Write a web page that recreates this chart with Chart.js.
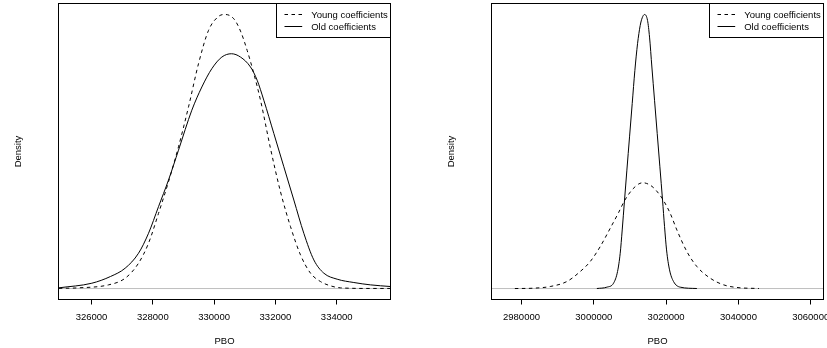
<!DOCTYPE html>
<html><head><meta charset="utf-8">
<script src="https://cdn.jsdelivr.net/npm/chart.js@4.4.0/dist/chart.umd.min.js"></script>
<style>
html,body{margin:0;padding:0;background:#fff;}
#wrap{position:relative;width:827px;height:348px;overflow:hidden;}
#c1{position:absolute;left:0;top:0;width:413px;height:348px;}
#c2{position:absolute;left:413px;top:0;width:414px;height:348px;}
</style></head><body>
<div id="wrap"><canvas id="c1" width="413" height="348"></canvas><canvas id="c2" width="414" height="348"></canvas></div>
<script>
// ---- labels ----
const youngLabel = 'Young coefficients';
const oldLabel = 'Old coefficients';
const xTitle = 'PBO';
const yTitle = 'Density';

// ---- left panel ----
const leftTicks = [326000, 328000, 330000, 332000, 334000];
const leftXRange = [324923, 335755];
const leftYoungPBO = [324934, 325576, 326555, 327098, 327533, 327860, 328186, 328512, 328838, 329165, 329491, 329817, 330143, 330350, 330644, 330861, 331079, 331296, 331514, 331840, 332166, 332493, 332819, 333145, 333471, 333797, 334124, 335102, 335755];
const leftYoungDensity = [0.002e-4, 0.008e-4, 0.042e-4, 0.118e-4, 0.290e-4, 0.519e-4, 0.861e-4, 1.223e-4, 1.624e-4, 2.081e-4, 2.576e-4, 2.957e-4, 3.117e-4, 3.140e-4, 3.090e-4, 2.950e-4, 2.728e-4, 2.462e-4, 2.157e-4, 1.604e-4, 1.109e-4, 0.709e-4, 0.385e-4, 0.176e-4, 0.080e-4, 0.031e-4, 0.008e-4, 0.001e-4, 0.001e-4];
const leftOldPBO = [324934, 326011, 326620, 327098, 327533, 327860, 328186, 328512, 328838, 329273, 329600, 329926, 330252, 330567, 330861, 331187, 331405, 331622, 331949, 332275, 332601, 332927, 333253, 333580, 334015, 334559, 335102, 335755];
const leftOldDensity = [0.008e-4, 0.061e-4, 0.138e-4, 0.233e-4, 0.404e-4, 0.633e-4, 0.938e-4, 1.243e-4, 1.585e-4, 2.043e-4, 2.309e-4, 2.519e-4, 2.652e-4, 2.690e-4, 2.652e-4, 2.538e-4, 2.386e-4, 2.157e-4, 1.776e-4, 1.395e-4, 1.014e-4, 0.633e-4, 0.328e-4, 0.176e-4, 0.107e-4, 0.069e-4, 0.042e-4, 0.023e-4];

// ---- right panel ----
const rightTicks = [2980000, 3000000, 3020000, 3040000, 3060000];
const rightXRange = [2971702, 3063533];
const rightYoungPBO = [2978165, 2983328, 2987938, 2992549, 2996237, 2999003, 3001770, 3004534, 3006839, 3008499, 3010528, 3012370, 3013575, 3015048, 3016431, 3018275, 3019198, 3021134, 3022978, 3025744, 3028511, 3032199, 3035888, 3039576, 3045663];
const rightYoungDensity = [0.0000e-4, 0.0013e-4, 0.0074e-4, 0.0256e-4, 0.0620e-4, 0.0984e-4, 0.1530e-4, 0.2197e-4, 0.2768e-4, 0.3205e-4, 0.3593e-4, 0.3811e-4, 0.3860e-4, 0.3811e-4, 0.3690e-4, 0.3411e-4, 0.3229e-4, 0.2743e-4, 0.2137e-4, 0.1348e-4, 0.0802e-4, 0.0377e-4, 0.0135e-4, 0.0038e-4, 0.0001e-4];
const rightOldPBO = [3000848, 3003614, 3005458, 3006565, 3007302, 3007856, 3008501, 3009147, 3009884, 3010622, 3011360, 3012097, 3012835, 3013388, 3014034, 3014864, 3015417, 3016062, 3016800, 3017538, 3018275, 3019012, 3019567, 3020120, 3020949, 3022056, 3023900, 3028511];
const rightOldDensity = [0.0001e-4, 0.0050e-4, 0.0195e-4, 0.0620e-4, 0.1287e-4, 0.2137e-4, 0.3229e-4, 0.4321e-4, 0.5534e-4, 0.6748e-4, 0.7961e-4, 0.8932e-4, 0.9599e-4, 0.9878e-4, 1.0000e-4, 0.9781e-4, 0.9174e-4, 0.8083e-4, 0.6869e-4, 0.5656e-4, 0.4442e-4, 0.3229e-4, 0.2257e-4, 0.1409e-4, 0.0681e-4, 0.0256e-4, 0.0050e-4, 0.0001e-4];

const FONT = '"Liberation Sans", Arial, Helvetica, sans-serif';
Chart.defaults.font.family = FONT;
Chart.defaults.font.size = 9.5;
Chart.defaults.color = '#000';

const pts = (xs, ys) => xs.map((x, i) => ({x: x, y: ys[i]}));

const framePlugin = {
  id: 'frameLegend',
  afterDatasetsDraw(chart) {
    const {ctx, chartArea: a} = chart;
    ctx.save();
    ctx.strokeStyle = '#000';
    ctx.lineWidth = 1;
    ctx.setLineDash([]);
    ctx.strokeRect(a.left, a.top, a.right - a.left, a.bottom - a.top);
    // legend box inside top-right
    const items = chart.data.datasets.filter(d => d.inLegend);
    ctx.font = '9.5px ' + FONT;
    const tw = Math.max(...items.map(d => ctx.measureText(d.label).width));
    const w = Math.round(34.7 + tw + 2.5);
    const h = 34;
    const left = a.right - w;
    const top = a.top;
    ctx.fillStyle = '#fff';
    ctx.fillRect(left, top, w, h);
    ctx.strokeRect(left, top, w, h);
    ctx.textBaseline = 'middle';
    ctx.textAlign = 'left';
    items.forEach((d, i) => {
      const y = top + 11 + i * 12;
      ctx.beginPath();
      ctx.setLineDash(d.borderDash || []);
      ctx.moveTo(left + 8, y);
      ctx.lineTo(left + 25.7, y);
      ctx.stroke();
      ctx.setLineDash([]);
      ctx.fillStyle = '#000';
      ctx.fillText(d.label, left + 34.7, y + 0.5);
    });
    ctx.restore();
  }
};

function makeChart(canvas, opt) {
  const allY = opt.young.y.concat(opt.old.y);
  const ymax = Math.max(...allY), ymin = Math.min(0, ...allY);
  const ext = (ymax - ymin) * 0.04;
  return new Chart(canvas, {
    type: 'line',
    data: {
      datasets: [
        {label: youngLabel, inLegend: true, data: pts(opt.young.x, opt.young.y), borderColor: '#000', borderWidth: 1, borderDash: [3.5, 3.5], pointRadius: 0, cubicInterpolationMode: 'monotone', fill: false},
        {label: oldLabel, inLegend: true, data: pts(opt.old.x, opt.old.y), borderColor: '#000', borderWidth: 1, pointRadius: 0, cubicInterpolationMode: 'monotone', fill: false},
        {label: 'zero', inLegend: false, data: [{x: opt.xr[0] - 1e6, y: 0}, {x: opt.xr[1] + 1e6, y: 0}], borderColor: '#bebebe', borderWidth: 1, pointRadius: 0, fill: false}
      ]
    },
    options: {
      responsive: false,
      animation: false,
      devicePixelRatio: 1,
      events: [],
      layout: {padding: {top: 3.5, right: opt.padRight, bottom: 0, left: 0}},
      plugins: {legend: {display: false}, tooltip: {enabled: false}},
      scales: {
        x: {
          type: 'linear', min: opt.xr[0], max: opt.xr[1],
          afterBuildTicks(s) { s.ticks = opt.ticks.map(v => ({value: v})); },
          afterFit(s) { s.height = 48.5; s.paddingLeft = 0; s.paddingRight = 0; },
          ticks: {autoSkip: false, maxRotation: 0, minRotation: 0, padding: 7.5, color: '#000', font: {size: 9.5}, callback: v => String(v)},
          grid: {display: true, drawOnChartArea: false, drawTicks: true, tickLength: 5, color: '#000', lineWidth: 1},
          border: {display: false},
          title: {display: true, text: xTitle, color: '#000', font: {size: 9.5}, padding: {top: 0, bottom: 1.3}}
        },
        y: {
          type: 'linear', min: ymin - ext, max: ymax + ext,
          afterFit(s) { s.width = opt.yWidth; s.paddingTop = 0; s.paddingBottom = 0; },
          ticks: {display: false},
          grid: {display: false},
          border: {display: false},
          title: {display: true, text: yTitle, color: '#000', font: {size: 9.5}, padding: {top: opt.yTitlePad, bottom: 0}}
        }
      }
    },
    plugins: [framePlugin]
  });
}

makeChart(document.getElementById('c1'), {
  young: {x: leftYoungPBO, y: leftYoungDensity},
  old: {x: leftOldPBO, y: leftOldDensity},
  xr: leftXRange, ticks: leftTicks, padRight: 22.5, yWidth: 58.5, yTitlePad: 12.8
});
makeChart(document.getElementById('c2'), {
  young: {x: rightYoungPBO, y: rightYoungDensity},
  old: {x: rightOldPBO, y: rightOldDensity},
  xr: rightXRange, ticks: rightTicks, padRight: 3.5, yWidth: 78.5, yTitlePad: 32.8
});
</script>
</body></html>
